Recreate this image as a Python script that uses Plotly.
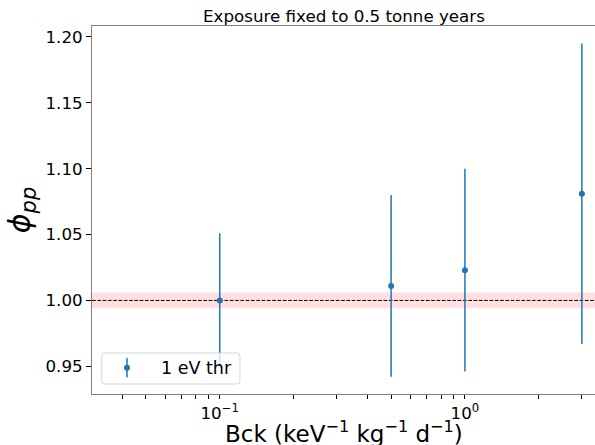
import plotly.graph_objects as go

# Background rate (keV^-1 kg^-1 d^-1) and fitted phi_pp with 1-sigma errors
bck = [0.1, 0.5, 1.0, 3.0]
phi_pp = [1.000, 1.011, 1.023, 1.081]
phi_err = [0.051, 0.069, 0.077, 0.114]

# Reference value and its band
phi_true = 1.0
band_halfwidth = 0.006

# x-axis ticks (log scale): decades labelled, the rest unlabelled
x_tickvals = [0.03, 0.04, 0.05, 0.06, 0.07, 0.08, 0.09, 0.1,
              0.2, 0.3, 0.4, 0.5, 0.6, 0.7, 0.8, 0.9, 1.0, 2.0, 3.0]
x_ticktext = ["", "", "", "", "", "", "", "10<sup>\u22121</sup>",
              "", "", "", "", "", "", "", "", "10<sup>0</sup>", "", ""]
y_tickvals = [0.95, 1.00, 1.05, 1.10, 1.15, 1.20]

BLUE = "#1f77b4"
FONT = "DejaVu Sans"

fig = go.Figure()
fig.add_trace(go.Scatter(
    x=bck, y=phi_pp, mode="markers", name="1 eV thr",
    marker=dict(color=BLUE, size=6),
    error_y=dict(type="data", array=phi_err, visible=True,
                 color=BLUE, thickness=1.5, width=0),
    showlegend=False,
))

# reference band and dashed line at phi = 1
fig.add_shape(type="rect", xref="paper", yref="y", x0=0, x1=1,
              y0=phi_true - band_halfwidth, y1=phi_true + band_halfwidth,
              fillcolor="rgba(255,0,0,0.12)", line=dict(width=0), layer="below")
fig.add_shape(type="line", xref="paper", yref="y", x0=0, x1=1,
              y0=phi_true, y1=phi_true,
              line=dict(color="black", width=1, dash="3.7px,1.6px"), layer="below")

# legend box (rounded), drawn by hand so the error-bar glyph shows
lx0, lx1, ly0, ly1 = 0.0193, 0.2942, 0.0272, 0.1114
rx, ry = 0.006, 0.0082
path = (f"M {lx0+rx},{ly0} L {lx1-rx},{ly0} Q {lx1},{ly0} {lx1},{ly0+ry} "
        f"L {lx1},{ly1-ry} Q {lx1},{ly1} {lx1-rx},{ly1} L {lx0+rx},{ly1} "
        f"Q {lx0},{ly1} {lx0},{ly1-ry} L {lx0},{ly0+ry} Q {lx0},{ly0} {lx0+rx},{ly0} Z")
fig.add_shape(type="path", path=path, xref="paper", yref="paper",
              fillcolor="rgba(255,255,255,0.8)",
              line=dict(color="rgba(204,204,204,0.8)", width=1), layer="above")
mx, my = 0.0696, 0.0715
fig.add_shape(type="line", xref="paper", yref="paper", x0=mx, x1=mx,
              y0=my - 0.027, y1=my + 0.027,
              line=dict(color=BLUE, width=1.5), layer="above")
fig.add_shape(type="circle", xref="paper", yref="paper",
              xsizemode="pixel", ysizemode="pixel", xanchor=mx, yanchor=my,
              x0=-3, x1=3, y0=-3, y1=3,
              fillcolor=BLUE, line=dict(color=BLUE, width=0), layer="above")
fig.add_annotation(text="1 eV thr", xref="paper", yref="paper",
                   x=0.1328, y=my, xanchor="left", yanchor="middle",
                   showarrow=False, font=dict(family=FONT, size=17.5, color="black"))

# title
fig.add_annotation(text="Exposure fixed to 0.5 tonne years",
                   xref="paper", yref="paper", x=0.5, y=1,
                   xanchor="center", yanchor="bottom", yshift=-2,
                   showarrow=False, font=dict(family=FONT, size=16.7, color="black"))

# x-axis label, placed below the tick labels
fig.add_annotation(text="Bck (keV<sup>\u22121</sup> kg<sup>\u22121</sup> d<sup>\u22121</sup>)",
                   xref="paper", yref="paper", x=0.5, y=0,
                   xanchor="center", yanchor="top", yshift=-21,
                   showarrow=False, font=dict(family=FONT, size=23, color="black"))

fig.update_layout(
    width=595, height=445,
    margin=dict(l=92, r=0, t=26, b=51),
    paper_bgcolor="white", plot_bgcolor="white",
    font=dict(family=FONT, size=16.7, color="black"),
    showlegend=False,
)
fig.update_xaxes(
    type="log", range=[-1.521, 0.5306], automargin=False,
    tickmode="array", tickvals=x_tickvals, ticktext=x_ticktext,
    ticks="outside", ticklen=4, tickwidth=1, tickcolor="black",
    showline=True, linecolor="rgb(128,128,128)", linewidth=1, mirror=True,
    showgrid=False, zeroline=False,
    tickfont=dict(family=FONT, size=16.7, color="black"),
)
fig.update_yaxes(
    range=[0.929, 1.2083], automargin=False,
    tickmode="array", tickvals=y_tickvals, tickformat=".2f",
    ticks="outside", ticklen=5, tickwidth=1, tickcolor="black",
    showline=True, linecolor="rgb(128,128,128)", linewidth=1, mirror=False,
    showgrid=False, zeroline=False,
    tickfont=dict(family=FONT, size=16.7, color="black"),
    title=dict(text="<i>\u03d5</i><sub><i>pp</i></sub>",
               font=dict(family=FONT, size=30, color="black"), standoff=6),
)

fig.write_html("out.html")
